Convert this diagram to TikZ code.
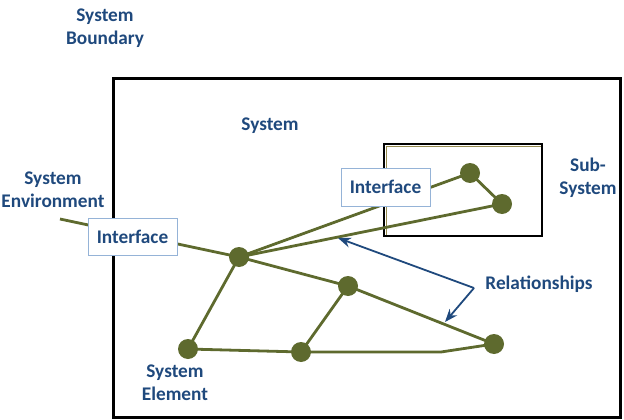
\documentclass[tikz,border=0pt]{standalone}
\usepackage{fontspec}
\setmainfont{Carlito}
\usetikzlibrary{arrows.meta}
\definecolor{olv}{RGB}{94,106,46}
\definecolor{txtblue}{RGB}{31,73,125}
\definecolor{ifborder}{RGB}{149,179,215}
\definecolor{arrblue}{RGB}{31,73,125}
\definecolor{innerline}{RGB}{150,140,80}
\begin{document}
\begin{tikzpicture}[x=1pt,y=-1pt,
  lbl/.style={font=\bfseries\fontsize{19.3}{23}\selectfont, text=txtblue, align=center, inner sep=0pt},
  elem/.style={circle, fill=olv, minimum size=20pt, inner sep=0pt},
  iface/.style={draw=ifborder, line width=0.9pt, fill=white, minimum width=89pt, minimum height=37pt, inner sep=0pt, font=\bfseries\fontsize{19.3}{23}\selectfont, text=txtblue},
  rel/.style={draw=olv, line width=2.8pt},
  arr/.style={draw=arrblue, line width=1.8pt, -{Stealth[length=13pt,width=10pt]}},
  boundary/.style={draw=black, line width=3pt},
]
\useasboundingbox (0,0) rectangle (624,420);
% system boundary
\draw[boundary] (113,79) rectangle (620,417);
% sub-system
\draw[innerline, line width=0.8pt] (386.5,236) -- (386.5,146.5) -- (542,146.5);
\draw[draw=black, line width=2.6pt] (384,144) rectangle (542,236);

% coordinates
\coordinate (env) at (60,219);
\coordinate (bend) at (441,352);
\coordinate (relv) at (474,288);
\coordinate (tip1) at (338,238);
\coordinate (tip2) at (445,322);

% element positions
\path (239,257) coordinate (pA) (188,349) coordinate (pB) (301,352) coordinate (pC)
      (348,286) coordinate (pD) (494,344) coordinate (pE) (470,173) coordinate (pF)
      (502,204) coordinate (pG);

% relationships
\draw[rel] (env) -- (pA);
\draw[rel] (pA) -- (pF);
\draw[rel] (pA) -- (pG);
\draw[rel] (pA) -- (pD);
\draw[rel] (pA) -- (pB);
\draw[rel] (pB) -- (pC);
\draw[rel] (pC) -- (pD);
\draw[rel] (pD) -- (pE);
\draw[rel] (pC) -- (bend) -- (pE);
\draw[rel] (pF) -- (pG);

% interfaces
\node[iface] (if1) at (132.5,236.5) {Interface};
\node[iface, minimum height=38pt] (if2) at (385.5,187) {Interface};

% elements
\node[elem] (A) at (pA) {};
\node[elem] (B) at (pB) {};
\node[elem] (C) at (pC) {};
\node[elem] (D) at (pD) {};
\node[elem] (E) at (pE) {};
\node[elem] (F) at (pF) {};
\node[elem] (G) at (pG) {};

% relationship arrows
\draw[arr] (relv) -- (tip1);
\draw[arr] (relv) -- (tip2);

% labels
\node[lbl] (lb) at (105,28.5) {System\\Boundary};
\node[lbl] (ls) at (270,126) {System};
\node[lbl] (lss) at (588,177.5) {Sub-\\System};
\node[lbl] (lenv) at (53,190) {System\\Environment};
\node[lbl] (lrel) at (539,284) {Relationships};
\node[lbl] (lel) at (175,383) {System\\Element};
\end{tikzpicture}
\end{document}
